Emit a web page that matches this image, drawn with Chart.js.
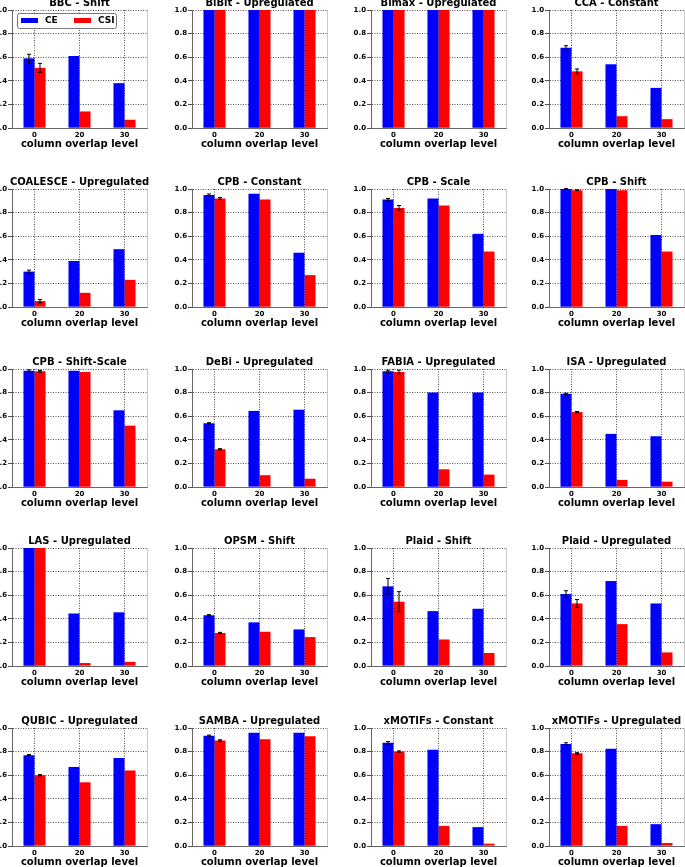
<!DOCTYPE html>
<html>
<head>
<meta charset="utf-8">
<script src="https://cdn.jsdelivr.net/npm/chart.js@4.4.1/dist/chart.umd.min.js"></script>
<style>
  html, body { margin: 0; padding: 0; background: #fff; width: 685px; height: 867px; overflow: hidden; position: relative; }
  canvas { position: absolute; }
</style>
</head>
<body>
<script>
// categories + series
const overlapLevels = ['0', '20', '30'];
const seriesLabels = ['CE', 'CSI'];

const panelTitles = [
  'BBC - Shift', 'BiBit - Upregulated', 'Bimax - Upregulated', 'CCA - Constant',
  'COALESCE - Upregulated', 'CPB - Constant', 'CPB - Scale', 'CPB - Shift',
  'CPB - Shift-Scale', 'DeBi - Upregulated', 'FABIA - Upregulated', 'ISA - Upregulated',
  'LAS - Upregulated', 'OPSM - Shift', 'Plaid - Shift', 'Plaid - Upregulated',
  'QUBIC - Upregulated', 'SAMBA - Upregulated', 'xMOTIFs - Constant', 'xMOTIFs - Upregulated'
];

const ceValues = [
  [0.59, 0.61, 0.38], [1.0, 1.0, 1.0], [1.0, 1.0, 1.0], [0.68, 0.54, 0.34],
  [0.30, 0.39, 0.49], [0.95, 0.96, 0.46], [0.91, 0.92, 0.62], [1.0, 1.0, 0.61],
  [0.985, 0.985, 0.65], [0.54, 0.645, 0.655], [0.98, 0.80, 0.80], [0.79, 0.45, 0.43],
  [1.0, 0.445, 0.455], [0.43, 0.37, 0.31], [0.675, 0.465, 0.485], [0.61, 0.72, 0.53],
  [0.77, 0.67, 0.745], [0.935, 0.96, 0.96], [0.875, 0.815, 0.16], [0.865, 0.825, 0.185]
];

const csiValues = [
  [0.51, 0.14, 0.07], [1.0, 1.0, 1.0], [1.0, 1.0, 1.0], [0.48, 0.10, 0.075],
  [0.05, 0.12, 0.23], [0.92, 0.91, 0.27], [0.84, 0.86, 0.47], [0.99, 0.99, 0.47],
  [0.98, 0.975, 0.52], [0.32, 0.10, 0.07], [0.975, 0.15, 0.105], [0.635, 0.06, 0.045],
  [1.0, 0.025, 0.035], [0.28, 0.29, 0.245], [0.545, 0.225, 0.11], [0.53, 0.355, 0.115],
  [0.60, 0.54, 0.64], [0.895, 0.905, 0.93], [0.80, 0.17, 0.02], [0.785, 0.17, 0.025]
];

const ceErrors = [
  [0.035, 0, 0], [0, 0, 0], [0, 0, 0], [0.017, 0, 0],
  [0.012, 0, 0], [0.008, 0, 0], [0.01, 0, 0], [0.003, 0, 0],
  [0.008, 0, 0], [0.005, 0, 0], [0.01, 0, 0], [0.005, 0, 0],
  [0, 0, 0], [0.005, 0, 0], [0.067, 0, 0], [0.028, 0, 0],
  [0.005, 0, 0], [0.005, 0, 0], [0.01, 0, 0], [0.01, 0, 0]
];

const csiErrors = [
  [0.038, 0, 0], [0, 0, 0], [0, 0, 0], [0.02, 0, 0],
  [0.014, 0, 0], [0.008, 0, 0], [0.02, 0, 0], [0.003, 0, 0],
  [0.008, 0, 0], [0.005, 0, 0], [0.015, 0, 0], [0.005, 0, 0],
  [0, 0, 0], [0.005, 0, 0], [0.085, 0, 0], [0.033, 0, 0],
  [0.005, 0, 0], [0.005, 0, 0], [0.006, 0, 0], [0.006, 0, 0]
];

// grid placement of the plot areas
const colLeft = [12, 192, 371, 549];
const rowTop = [10, 189, 369, 548, 728];
const PLOT_W = 135, PLOT_H = 118;
const PAD_SIDE = 32, TITLE_H = 14, AXIS_B = 24;
const FONT = "'DejaVu Sans', sans-serif";

Chart.defaults.font.family = FONT;
Chart.defaults.color = '#000';

const errorBarPlugin = {
  id: 'errorBars',
  afterDatasetsDraw(chart) {
    const { ctx } = chart;
    const y = chart.scales.y;
    ctx.save();
    ctx.strokeStyle = '#000';
    ctx.lineWidth = 1;
    chart.data.datasets.forEach((ds, d) => {
      const meta = chart.getDatasetMeta(d);
      meta.data.forEach((bar, j) => {
        const err = ds.errors ? ds.errors[j] : 0;
        if (!err) return;
        const v = ds.data[j];
        const y1 = y.getPixelForValue(v + err);
        const y2 = y.getPixelForValue(v - err);
        ctx.beginPath();
        ctx.moveTo(bar.x, y1); ctx.lineTo(bar.x, y2);
        ctx.moveTo(bar.x - 2, y1); ctx.lineTo(bar.x + 2, y1);
        ctx.moveTo(bar.x - 2, y2); ctx.lineTo(bar.x + 2, y2);
        ctx.stroke();
      });
    });
    ctx.restore();
  }
};

// right spine + title centred over the axes (not the canvas)
const frameTitlePlugin = {
  id: 'frameTitle',
  afterDraw(chart) {
    const { ctx, chartArea: a } = chart;
    ctx.save();
    ctx.strokeStyle = '#c8c8c8';
    ctx.lineWidth = 1;
    ctx.beginPath();
    ctx.moveTo(a.right + 0.5, a.top);
    ctx.lineTo(a.right + 0.5, a.bottom);
    ctx.stroke();
    const t = chart.options.plugins.frameTitle.text;
    ctx.fillStyle = '#000';
    ctx.font = `bold 10px ${FONT}`;
    ctx.textAlign = 'center';
    ctx.textBaseline = 'middle';
    ctx.fillText(t, (a.left + a.right) / 2, a.top - 6.5);
    ctx.restore();
  }
};

// legend box inside the first panel
const insetLegendPlugin = {
  id: 'insetLegend',
  afterDraw(chart) {
    const { ctx, chartArea: a } = chart;
    const bx = a.left + 5, by = a.top + 3, bw = 99, bh = 15;
    ctx.save();
    ctx.fillStyle = '#fff';
    ctx.strokeStyle = '#555';
    ctx.lineWidth = 0.8;
    ctx.beginPath();
    ctx.roundRect(bx + 0.5, by + 0.5, bw, bh, 2);
    ctx.fill();
    ctx.stroke();
    ctx.font = `bold 9px ${FONT}`;
    ctx.textBaseline = 'middle';
    chart.data.datasets.forEach((ds, i) => {
      const px = bx + 4 + i * 53;
      ctx.fillStyle = ds.backgroundColor;
      ctx.fillRect(px, by + 5, 17, 5);
      ctx.fillStyle = '#000';
      ctx.fillText(ds.label, px + 24, by + 8);
    });
    ctx.restore();
  }
};

panelTitles.forEach((title, i) => {
  const col = i % 4, row = Math.floor(i / 4);
  const cv = document.createElement('canvas');
  const w = PAD_SIDE * 2 + PLOT_W, h = TITLE_H + PLOT_H + AXIS_B;
  cv.width = w; cv.height = h;
  cv.style.width = w + 'px'; cv.style.height = h + 'px';
  cv.style.left = (colLeft[col] - PAD_SIDE) + 'px';
  cv.style.top = (rowTop[row] - TITLE_H) + 'px';
  document.body.appendChild(cv);

  const plugins = [errorBarPlugin, frameTitlePlugin];
  if (i === 0) plugins.push(insetLegendPlugin);

  new Chart(cv, {
    type: 'bar',
    data: {
      labels: overlapLevels,
      datasets: [
        { label: seriesLabels[0], data: ceValues[i], errors: ceErrors[i], backgroundColor: '#0000ff',
          borderWidth: 0, barPercentage: 1, categoryPercentage: 0.49 },
        { label: seriesLabels[1], data: csiValues[i], errors: csiErrors[i], backgroundColor: '#ff0000',
          borderWidth: 0, barPercentage: 1, categoryPercentage: 0.49 }
      ]
    },
    options: {
      responsive: false,
      animation: false,
      devicePixelRatio: 1,
      layout: { padding: { left: 0, right: PAD_SIDE, top: TITLE_H, bottom: 0 } },
      scales: {
        x: {
          grid: { offset: false, color: '#000', lineWidth: 0.7, drawTicks: false },
          border: { display: true, color: '#666', dash: [1, 1.5] },
          ticks: { font: { size: 7, weight: 'bold' }, color: '#000', padding: 3 },
          title: { display: true, text: 'column overlap level', color: '#000',
                   font: { size: 10, weight: 'bold' }, padding: { top: 0, bottom: 2 } },
          afterFit(s) { s.height = AXIS_B; }
        },
        y: {
          min: 0, max: 1,
          grid: { color: '#000', lineWidth: 0.7, tickLength: 4, tickColor: '#000', tickBorderDash: [] },
          border: { display: true, color: '#666', dash: [1, 1.5] },
          ticks: { stepSize: 0.2, font: { size: 7, weight: 'bold' }, color: '#000', padding: 1,
                   callback: (v) => Number(v).toFixed(1) },
          afterFit(s) { s.width = PAD_SIDE; }
        }
      },
      plugins: {
        legend: { display: false },
        tooltip: { enabled: false },
        title: { display: false },
        frameTitle: { text: title }
      }
    },
    plugins
  });
});
</script>
</body>
</html>
